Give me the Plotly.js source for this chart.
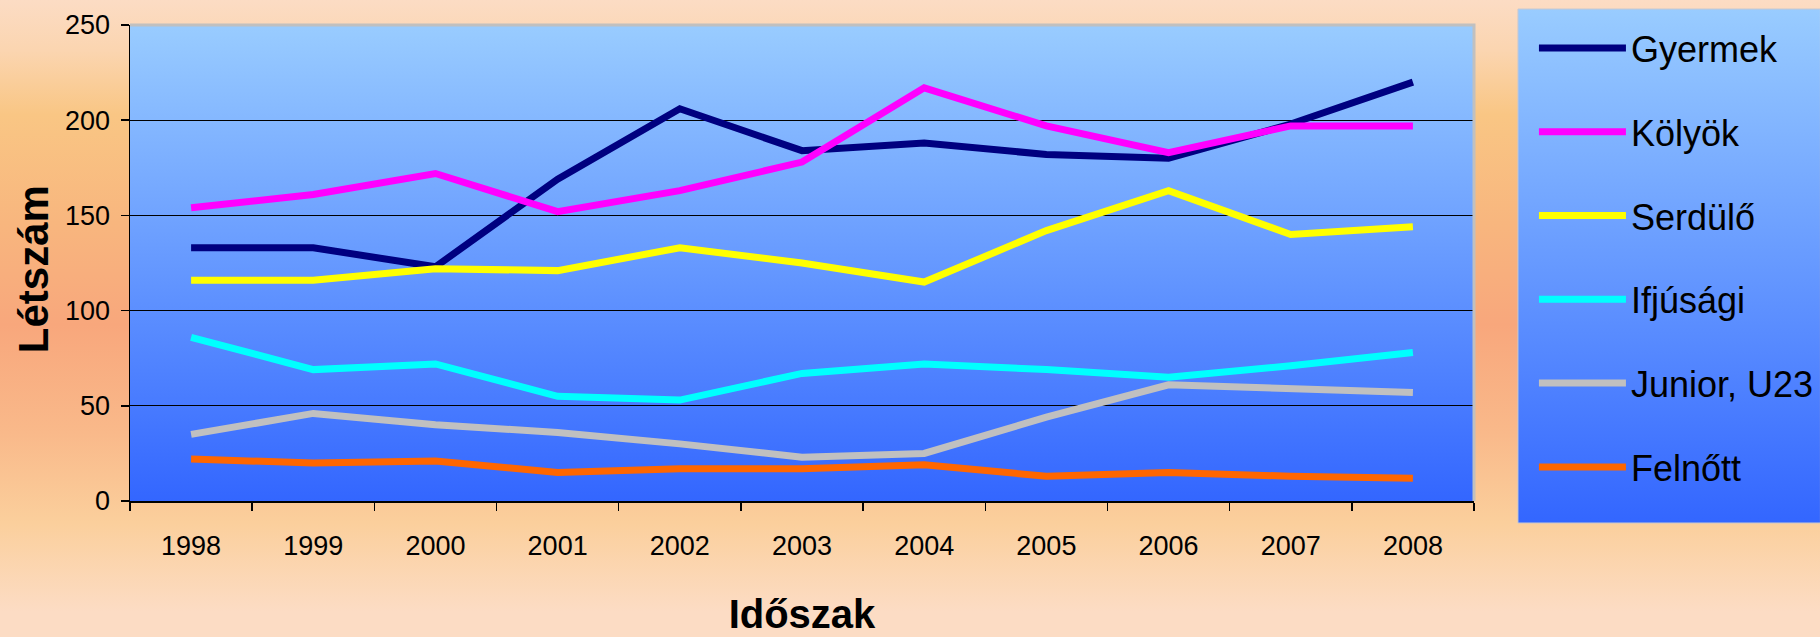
<!DOCTYPE html>
<html>
<head>
<meta charset="utf-8">
<script src="https://cdn.plot.ly/plotly-3.0.1.min.js"></script>
<style>
  html, body { margin: 0; padding: 0; }
  body {
    width: 1820px; height: 637px; overflow: hidden;
    background: linear-gradient(to bottom, #fcdcc4 0%, #fbd5b0 8%, #f9c684 18%, #f8b67e 35%, #f8a77c 51%, #f9b98a 68%, #fbcf9c 82%, #fcdcc4 96%);
  }
  #lineChart { width: 1820px; height: 637px; }
</style>
</head>
<body>
<div id="lineChart"></div>
<script>
// years on the x axis
var years = ["1998", "1999", "2000", "2001", "2002", "2003", "2004", "2005", "2006", "2007", "2008"];

// headcount per age group
var gyermek = [133, 133, 123, 169, 206, 184, 188, 182, 180, 198, 220];
var kolyok = [154, 161, 172, 152, 163, 178, 217, 197, 183, 197, 197];
var serdulo = [116, 116, 122, 121, 133, 125, 115, 142, 163, 140, 144];
var ifjusagi = [86, 69, 72, 55, 53, 67, 72, 69, 65, 71, 78];
var junior = [35, 46, 40, 36, 30, 23, 25, 44, 61, 59, 57];
var felnott = [22, 20, 21, 15, 17, 17, 19, 13, 15, 13, 12];

var seriesNames = ["Gyermek", "Kölyök", "Serdülő", "Ifjúsági", "Junior, U23", "Felnőtt"];
var seriesValues = [gyermek, kolyok, serdulo, ifjusagi, junior, felnott];
var seriesColors = ["#000080", "#ff00ff", "#ffff00", "#00ffff", "#c0c0c0", "#ff6600"];

var sans = "Liberation Sans, Arial, sans-serif";

function gradientImage(top, bottom) {
    var svg = '<svg xmlns="http://www.w3.org/2000/svg" width="100" height="100" viewBox="0 0 100 100" preserveAspectRatio="none">' +
        '<defs><linearGradient id="g" x1="0" y1="0" x2="0" y2="1">' +
        '<stop offset="0" stop-color="' + top + '"/><stop offset="1" stop-color="' + bottom + '"/>' +
        '</linearGradient></defs><rect width="100" height="100" fill="url(#g)"/></svg>';
    return "data:image/svg+xml;charset=utf-8," + encodeURIComponent(svg);
}

var data = [];
for (var i = 0; i < seriesNames.length; i++) {
    data.push({
        x: years,
        y: seriesValues[i],
        type: "scatter",
        mode: "lines",
        name: seriesNames[i],
        legendgroup: "g" + i,
        line: { color: seriesColors[i], width: 7 }
    });
}

var layout = {
    width: 1820,
    height: 637,
    margin: { l: 130, r: 346, t: 25, b: 136, autoexpand: false },
    paper_bgcolor: "rgba(0,0,0,0)",
    plot_bgcolor: "rgba(0,0,0,0)",
    font: { family: sans, color: "black", size: 27 },
    xaxis: {
        type: "category",
        range: [-0.5, 10.5],
        tickson: "boundaries",
        ticks: "outside",
        ticklen: 8,
        tickwidth: 1.5,
        tickcolor: "black",
        showline: true,
        linecolor: "black",
        linewidth: 1.5,
        showgrid: false,
        ticklabelstandoff: 20,
        tickfont: { family: sans, size: 27 },
        title: {
            text: "Időszak",
            font: { family: sans, size: 40, weight: "bold" },
            standoff: 40
        }
    },
    yaxis: {
        range: [0, 250],
        dtick: 50,
        ticks: "outside",
        ticklen: 8,
        tickwidth: 1.5,
        tickcolor: "black",
        showline: true,
        linecolor: "black",
        linewidth: 1.5,
        showgrid: true,
        gridcolor: "black",
        gridwidth: 1.2,
        zeroline: false,
        ticklabelstandoff: 5,
        tickfont: { family: sans, size: 27 }
    },
    // y title as annotation so it sits where the original has it
    annotations: [
        {
            text: "Létszám",
            xref: "paper", yref: "paper",
            x: -0.0722, y: 0.487,
            xanchor: "center", yanchor: "middle",
            textangle: -90,
            showarrow: false,
            font: { family: sans, size: 42, weight: "bold", color: "black" }
        }
    ],
    showlegend: true,
    legend: {
        x: 1.0446,
        xanchor: "left",
        y: 1.0147,
        yanchor: "top",
        maxheight: 620,
        bgcolor: "rgba(0,0,0,0)",
        borderwidth: 0,
        itemwidth: 87,
        traceorder: "grouped",
        tracegroupgap: 34,
        font: { family: sans, size: 36, color: "black" }
    },
    images: [
        {
            source: gradientImage("#99ccff", "#3366ff"),
            xref: "paper", yref: "paper",
            x: 0, y: 1, sizex: 1, sizey: 1,
            xanchor: "left", yanchor: "top",
            sizing: "stretch", layer: "below"
        },
        {
            source: gradientImage("#99ccff", "#3366ff"),
            xref: "paper", yref: "paper",
            x: 1.0327, y: 1.0336, sizex: 0.2247, sizey: 1.0798,
            xanchor: "left", yanchor: "top",
            sizing: "stretch", layer: "below"
        }
    ],
    shapes: [
        {
            type: "path",
            xref: "paper", yref: "paper",
            path: "M 0 1 L 1 1 L 1 0",
            line: { color: "#c0c0c0", width: 3 },
            layer: "above"
        },
        {
            type: "rect",
            xref: "paper", yref: "paper",
            x0: 1.0327, x1: 1.26, y0: -0.0462, y1: 1.0336,
            line: { color: "#c8c8d0", width: 1 },
            layer: "below"
        }
    ]
};

Plotly.newPlot("lineChart", data, layout, { staticPlot: true });
</script>
</body>
</html>
